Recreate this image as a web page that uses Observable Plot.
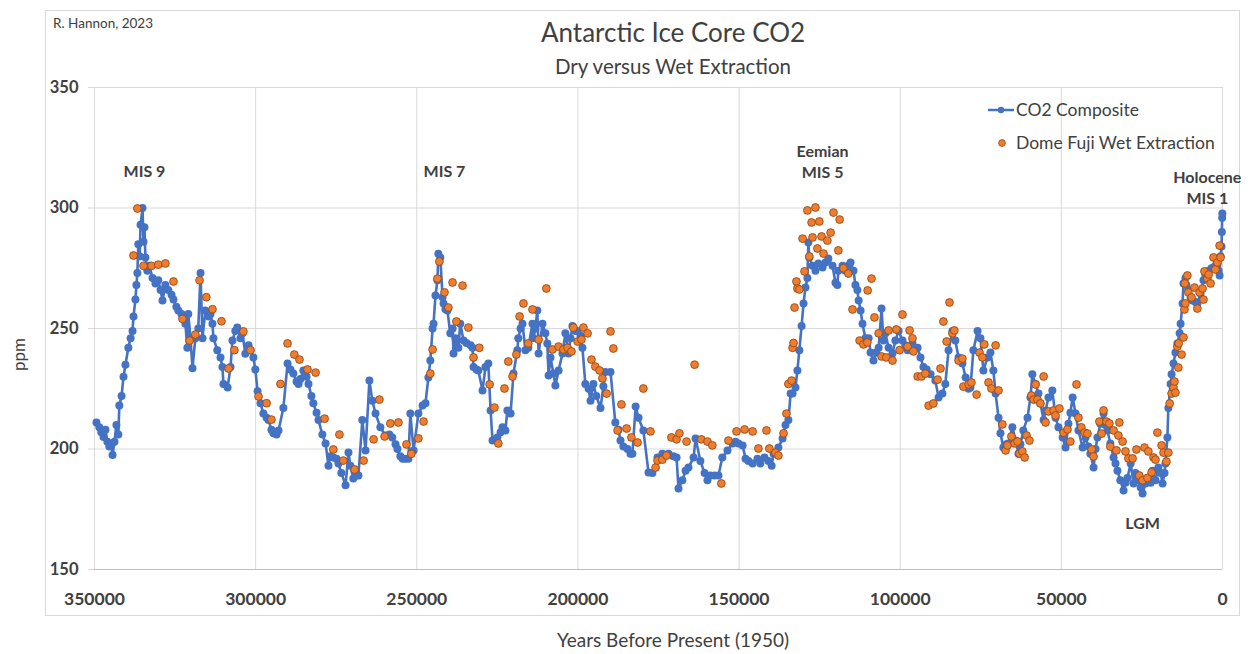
<!DOCTYPE html>
<html><head><meta charset="utf-8">
<script src="https://cdn.jsdelivr.net/npm/d3@7"></script>
<script src="https://cdn.jsdelivr.net/npm/@observablehq/plot@0.6"></script>
<style>
body{margin:0;background:#fff;font-family:Lato,"Noto Sans",sans-serif;color:#404040;}
#wrap{position:relative;width:1248px;height:654px;overflow:hidden;}
#frame{position:absolute;left:45px;top:10px;width:1195px;height:606px;border:1px solid #d9d9d9;box-sizing:border-box;}
.t{position:absolute;white-space:nowrap;}
#chart{position:absolute;left:0;top:0;}
</style></head>
<body><div id="wrap">
<div id="frame"></div>
<div id="chart"></div>
<div class="t" id="credit" style="left:53px;top:15px;font-size:13.5px;color:#404040;"></div>
<div class="t" id="title" style="left:0;width:1346px;top:16px;text-align:center;font-size:26px;color:#404040;"></div>
<div class="t" id="subtitle" style="left:0;width:1346px;top:54px;text-align:center;font-size:20.5px;color:#404040;"></div>
<div class="t" id="ylab" style="left:-2px;top:344px;font-size:17px;transform:rotate(-90deg);transform-origin:center;width:40px;text-align:center;"></div>
<div class="t" id="xlab" style="left:0;width:1346px;top:628px;text-align:center;font-size:19px;"></div>
<div class="t" id="legend" style="left:986px;top:93px;font-size:17.5px;line-height:33px;"></div>
</div>
<script>
const titleText = "Antarctic Ice Core CO2";
const subtitleText = "Dry versus Wet Extraction";
const creditText = "R. Hannon, 2023";
const xLabelText = "Years Before Present (1950)";
const yLabelText = "ppm";
const seriesNames = ["CO2 Composite", "Dome Fuji Wet Extraction"];
const xTicksKyr = [350, 300, 250, 200, 150, 100, 50, 0];
const yTicks = [150, 200, 250, 300, 350];

// [thousand years before 1950, ppm]
const compositeSeries = [[349.4,211],[348.5,209],[347.9,207],[347.2,205],[346.6,208],[346.0,203],[345.4,201],[344.7,202],[344.4,197.5],[343.8,203],[343.2,210],[342.6,206],[342.3,218],[341.6,222],[341.0,230],[340.4,235],[339.5,242],[338.8,246],[338.2,249],[337.9,255],[337.3,262],[337.0,268],[336.7,273],[336.4,285],[336.0,280],[335.7,293],[335.1,300],[334.8,286],[334.5,292],[334.2,279.5],[333.6,274],[333.0,276],[332.0,271],[331.1,268.7],[330.2,270],[329.5,266],[328.9,261.6],[328.0,268],[327.1,266],[326.1,264],[325.5,262],[324.6,259],[324.0,257.5],[323.0,256],[322.4,254],[321.8,252],[321.2,242],[320.9,256],[320.2,246],[319.6,233.5],[318.7,246],[317.8,250],[317.1,273],[316.5,246],[315.6,257.5],[314.6,255],[314.0,256],[313.4,252],[313.1,246],[311.9,241],[310.9,238],[310.3,234],[310.0,227],[308.7,225.5],[307.8,234],[307.2,245],[306.3,249],[305.7,250.4],[304.7,246],[304.1,248],[303.2,239.5],[302.2,243],[301.6,241],[300.7,238],[300.1,233],[299.4,224],[298.5,219],[297.6,214.7],[296.6,213],[296.0,212],[295.1,208],[294.5,206.5],[293.5,206],[292.9,207.7],[291.4,217],[290.1,235.5],[289.2,233],[288.3,231.3],[287.3,228],[286.7,227],[286.1,229],[285.2,232.6],[284.2,230],[283.6,227],[282.7,222],[282.1,219],[281.1,215],[280.5,212],[279.3,206],[278.3,202.3],[277.4,193],[276.8,197],[275.9,196.5],[274.9,196],[274.3,194],[273.4,190],[272.1,185],[271.2,198.5],[270.6,193],[269.7,187.8],[268.7,189],[268.1,189],[266.9,212],[265.9,199.4],[264.7,228.4],[263.8,220],[262.8,214.7],[261.3,209],[259.7,205.6],[258.5,206],[257.6,204.8],[256.6,202],[256.0,200],[255.1,197],[254.4,196],[253.5,196],[252.6,196],[252.0,214.7],[251.0,199.4],[249.5,214.7],[248.2,218],[247.3,219],[246.4,229.7],[245.8,236.7],[245.1,250],[244.8,252],[244.2,263.7],[243.6,270],[243.3,281],[242.7,279.5],[242.0,263],[241.7,260.4],[241.1,258],[240.5,257.5],[239.6,248],[238.9,250],[238.6,239.6],[238.0,246],[237.1,242],[236.5,252],[235.5,245],[234.6,244],[233.3,243],[232.7,242],[232.4,234],[231.5,233],[230.9,232.6],[229.6,224.3],[228.7,234],[227.8,235.5],[227.1,216],[226.5,203.5],[225.6,204],[225.0,204.8],[224.0,207],[223.4,209],[222.5,207.7],[221.9,216],[220.9,214.7],[220.0,231.3],[218.8,241],[218.5,246],[217.8,250],[217.2,252],[216.3,241],[215.4,242],[214.1,252],[213.8,246],[213.2,250],[212.6,257.5],[212.2,239.6],[211.0,252],[210.1,248],[209.5,243.8],[209.1,230.5],[208.5,238],[207.6,231.3],[207.0,226.3],[206.0,232.6],[204.8,239.6],[203.9,248],[202.9,239.6],[202.3,246],[201.7,251],[200.8,249],[200.1,249],[199.2,247],[198.6,242],[197.7,227],[196.7,225],[196.1,220],[195.2,227],[194.3,222],[193.0,217],[192.1,226],[191.5,232],[189.9,232],[188.4,211],[187.4,208],[186.8,203.5],[185.9,201],[184.6,200],[183.7,198],[183.1,198],[182.1,217.6],[181.2,213],[179.7,207.7],[178.1,190.3],[176.9,190],[175.3,196.5],[173.8,198],[171.9,198],[170.4,197],[169.4,196.5],[168.8,183.6],[167.6,187],[166.6,191],[165.7,192.3],[164.1,196.5],[163.5,204.4],[162.0,195],[160.7,190],[159.8,187],[158.9,189],[157.6,189],[156.4,189],[155.2,196.5],[153.6,199.4],[152.0,202.3],[151.1,203],[150.2,202.3],[148.9,201.5],[148.0,196],[147.1,195],[145.8,194],[144.3,196],[143.4,194],[142.1,196.5],[140.9,195],[139.9,193],[139.3,198],[137.8,200.6],[136.5,204.4],[135.6,210],[134.7,212],[134.0,223],[133.4,223],[132.5,225.5],[131.9,232.6],[131.3,241],[130.6,251],[130.0,260.4],[129.4,267],[128.8,271],[128.5,285.7],[128.2,279.5],[127.2,276],[126.3,274],[125.4,277],[124.1,275.3],[123.2,277.4],[122.3,279],[121.0,276],[120.1,269],[119.5,268],[119.2,274],[117.9,276],[117.0,274],[116.1,276],[115.4,277.4],[114.5,274],[113.9,268],[113.3,266],[112.9,261.6],[112.3,257.5],[111.7,252],[110.8,246],[109.8,246],[109.2,240],[108.3,236.7],[107.4,240],[106.7,242],[105.8,258.3],[105.2,245],[104.6,248],[103.6,242],[102.4,239.6],[101.5,245],[100.5,249],[99.3,245],[98.4,243],[97.7,241],[96.2,243.8],[94.6,242],[93.7,238],[92.8,234],[91.8,233],[90.6,231],[89.1,228.4],[88.1,221.4],[86.9,223],[86.0,227],[85.0,241],[83.8,249],[82.9,245],[81.9,238],[80.7,235.5],[79.7,229.7],[78.8,225],[78.2,225.5],[77.3,241],[76.0,249],[75.1,246],[74.2,232.6],[72.9,238],[72.0,240],[71.1,232.6],[70.4,223],[69.5,213],[68.9,206.5],[68.0,200.6],[67.0,202],[66.4,202.3],[65.2,209],[64.2,203.5],[63.3,198],[62.7,202],[61.8,207.7],[60.5,213],[59.6,221.4],[59.0,231],[58.0,227],[57.1,223],[56.5,219],[55.5,212],[54.9,216],[54.0,221.4],[52.8,224.3],[51.8,213],[50.9,209],[49.6,204.8],[48.7,200.6],[47.8,210.5],[47.2,215],[46.5,221.4],[45.6,214.7],[44.7,207.7],[43.4,200.6],[42.5,204.8],[41.6,201],[41.0,198],[40.0,192.3],[39.4,200],[38.8,204.8],[37.9,210.5],[36.9,214.7],[36.3,210],[35.7,207.7],[34.8,202.3],[33.8,196.5],[33.2,194],[32.6,191],[31.7,187],[30.7,182.8],[30.1,186],[29.5,188],[28.5,194],[27.6,185.7],[27.0,190],[26.4,187],[25.4,184],[24.8,181.5],[23.9,185.7],[23.0,188],[22.3,186],[21.7,191],[20.8,187],[19.9,192.3],[19.2,190],[18.6,185.7],[18.0,190],[17.7,194],[17.1,204.8],[16.8,217],[16.1,227],[15.8,231],[15.2,235.5],[14.6,240],[14.0,243.8],[13.3,248],[13.0,252],[12.4,260.4],[12.1,268.7],[11.5,271],[11.2,268],[10.6,266],[9.9,263],[9.3,261.6],[8.4,261],[7.8,260.4],[6.8,264.5],[5.9,270],[5.3,272],[4.3,274],[3.4,275],[2.8,275.3],[2.2,276],[1.6,277],[1.2,274],[0.9,272],[0.6,280],[0.3,284],[0.2,290],[0.1,296],[0.05,297.7]];

const domeFujiSeries = [[336.7,299.8],[337.9,280.3],[334.8,276],[332.3,276],[330.2,276.5],[328.0,277],[325.5,269.5],[322.7,254],[320.5,245],[318.7,247.5],[317.4,270],[315.3,263],[313.4,258],[310.6,253],[308.4,233.4],[306.6,241],[303.8,248.8],[301.6,241],[299.1,221.8],[296.6,219],[295.1,212.2],[292.3,227],[290.1,243.8],[288.0,239.2],[286.4,237.1],[283.9,233],[281.4,231.7],[278.6,212.6],[275.9,199.8],[274.0,206],[272.8,195.2],[269.3,191.5],[266.5,195.2],[263.4,204],[261.6,220.5],[260.0,205.2],[258.2,210.6],[255.7,211],[253.2,201.9],[251.7,198],[249.5,204.4],[247.9,211.4],[245.8,231.3],[245.1,241.3],[243.6,270.7],[243.0,277.8],[241.4,265],[240.2,258.7],[238.9,269.1],[237.7,252.9],[235.8,267.8],[234.0,250.4],[232.4,238],[230.6,242],[227.4,226.8],[225.9,217.2],[224.7,202.3],[222.8,225.1],[221.6,236.3],[220.3,230.1],[219.1,239.2],[218.1,255],[216.9,260.4],[215.4,243.8],[214.1,257.9],[212.2,245.4],[209.8,266.6],[207.9,241.3],[206.0,242.5],[204.5,241.3],[203.2,242],[202.0,240.5],[201.4,250.4],[200.1,244.6],[198.9,245.4],[198.3,250.4],[197.0,248],[195.8,237.1],[194.6,234.2],[193.3,232.6],[192.4,229.3],[191.1,223],[189.9,248.8],[189.0,241.7],[187.7,207.7],[186.5,218.5],[184.9,208.5],[183.4,204.8],[181.5,202.7],[179.7,225.1],[177.5,207.3],[175.9,192.3],[175.3,195.2],[173.8,195.6],[172.5,197.3],[171.0,204.8],[169.4,204],[168.5,206.5],[166.3,203.1],[163.8,235],[161.7,204],[159.8,203.1],[158.3,201.5],[155.5,185.7],[153.3,203.5],[150.8,207.3],[148.3,208.1],[145.8,207.3],[144.0,200.2],[141.5,207.7],[140.6,200.2],[138.7,198.5],[137.8,197.3],[136.2,206.5],[135.3,214.7],[134.7,227],[133.7,228.4],[133.4,242],[133.1,244],[132.8,258.7],[132.2,269.5],[131.9,266.6],[131.3,266.2],[130.3,287.3],[129.7,273.7],[128.8,299],[128.2,279.9],[127.5,294],[127.2,287.8],[126.3,300.2],[125.7,283.2],[125.1,294.4],[124.4,288.2],[123.8,281.1],[122.6,286.5],[121.6,289.8],[120.7,298.1],[119.2,282.4],[118.8,295.2],[117.6,275],[116.1,272.8],[114.8,257.9],[112.6,245],[111.4,243.4],[110.2,244.2],[110.1,265.8],[108.9,270.7],[108.0,254.6],[106.7,248],[105.8,238.4],[104.3,238],[103.6,249.2],[102.4,236.7],[101.2,249.6],[100.2,241],[99.3,255.8],[97.7,242.5],[97.1,249.2],[96.2,245.9],[95.9,240.5],[94.6,230.1],[93.4,230.1],[92.2,231.3],[91.2,218],[89.7,218.9],[88.4,228.8],[87.5,233.4],[86.6,252.9],[85.6,244.6],[84.7,260.8],[83.8,248],[83.2,249.2],[81.9,236.7],[80.7,237.5],[80.4,225.9],[78.8,226.8],[77.9,227.6],[76.3,222.6],[75.4,240],[74.5,238],[73.9,243.4],[72.6,227.6],[71.7,225.1],[70.4,243],[69.5,224.3],[68.3,210.2],[67.3,199.4],[66.7,201.5],[65.5,205.2],[64.5,202.3],[63.6,203.1],[63.0,198.1],[62.1,199],[61.4,196.5],[60.8,205.6],[59.9,203.5],[59.3,222.2],[58.6,220.5],[58.0,226.8],[57.4,220.5],[56.5,218.9],[55.5,230.1],[54.9,211],[54.0,215.6],[52.4,216],[51.8,213.9],[50.6,216.8],[49.3,206.8],[48.1,208.1],[47.2,203.1],[45.3,226.8],[44.7,213],[43.8,209],[42.8,206.8],[41.9,206.4],[40.6,199.8],[40.0,196.9],[38.2,211.4],[37.5,206.4],[36.9,216],[36.0,211.4],[35.1,210.6],[34.8,201],[33.8,207.7],[32.9,199.4],[32.3,205.6],[32.0,211],[31.0,203.1],[30.1,199],[29.2,196.1],[27.9,196.1],[26.7,199.8],[25.8,189],[24.8,187],[24.2,200.6],[23.3,188],[23.0,199],[22.0,190.3],[21.4,196.5],[20.8,195.6],[20.2,206.8],[18.9,201.5],[18.3,198.5],[17.4,194.8],[16.8,198.5],[16.4,218.9],[15.8,223],[15.2,225.5],[14.9,228],[14.6,223.4],[14.0,242.5],[13.7,233.8],[13.6,243.8],[12.7,239.2],[12.1,246.3],[11.8,257.9],[11.5,260.4],[11.7,268.7],[10.9,272],[10.6,265],[9.6,262.9],[8.7,267],[7.8,258.3],[7.1,265],[6.2,266.6],[5.9,262],[5.6,273.7],[4.7,270.7],[4.3,272.4],[3.7,268.7],[2.8,279.5],[2.2,274.5],[1.6,277.4],[0.9,284.4],[0.6,279.5]];

const annotations = [
  {label: "MIS 9", kyr: 334.5, ppm: 315.6},
  {label: "MIS 7", kyr: 241.4, ppm: 315.6},
  {label: "Eemian\nMIS 5", kyr: 124.1, ppm: 319.7},
  {label: "Holocene\nMIS 1", kyr: 4.7, ppm: 308.9},
  {label: "LGM", kyr: 24.8, ppm: 169.5}
];

const BLUE = "#4472C4", ORANGE = "#ED7D31", ORANGE_EDGE = "#9C4A10", GRID = "#d9d9d9", TXT = "#404040";

document.getElementById("credit").textContent = creditText;
document.getElementById("title").textContent = titleText;
document.getElementById("subtitle").textContent = subtitleText;
document.getElementById("xlab").textContent = xLabelText;
document.getElementById("ylab").textContent = yLabelText;
document.getElementById("legend").innerHTML =
  `<div><svg width="30" height="14" style="vertical-align:-1px"><line x1="2" x2="28" y1="7" y2="7" stroke="${BLUE}" stroke-width="2.5"/><circle cx="15" cy="7" r="3.2" fill="${BLUE}"/></svg><span></span></div>` +
  `<div><svg width="30" height="14" style="vertical-align:-1px"><circle cx="16" cy="7" r="3.4" fill="${ORANGE}" stroke="${ORANGE_EDGE}" stroke-width="0.8"/></svg><span></span></div>`;
const spans = document.querySelectorAll("#legend span");
spans[0].textContent = seriesNames[0];
spans[1].textContent = seriesNames[1];

const chart = Plot.plot({
  width: 1248, height: 654,
  marginLeft: 94, marginRight: 26, marginTop: 87, marginBottom: 85,
  style: {background: "transparent", fontFamily: "Lato, 'Noto Sans', sans-serif", color: TXT},
  x: {domain: [350, 0], label: null},
  y: {domain: [150, 350], label: null},
  marks: [
    Plot.gridX(xTicksKyr, {stroke: GRID, strokeOpacity: 1, strokeWidth: 1}),
    Plot.gridY(yTicks, {stroke: GRID, strokeOpacity: 1, strokeWidth: 1, x1: 0, x2: 350}),
    Plot.ruleY([150], {stroke: "#bfbfbf", strokeWidth: 1}),
    Plot.axisX(xTicksKyr, {tickSize: 0, tickPadding: 23, tickFormat: d => String(d * 1000), fontSize: 17.5, fontWeight: "bold", fill: TXT, label: null}),
    Plot.axisY(yTicks, {tickSize: 6, stroke: GRID, tickPadding: 10, fontSize: 16.5, fontWeight: "bold", fill: TXT, label: null}),
    Plot.line(compositeSeries, {x: d => d[0], y: d => d[1], stroke: BLUE, strokeWidth: 2.6, curve: "linear"}),
    Plot.dot(compositeSeries, {x: d => d[0], y: d => d[1], r: 4, fill: BLUE, stroke: "none"}),
    Plot.dot(domeFujiSeries, {x: d => d[0], y: d => d[1], r: 3.9, fill: ORANGE, stroke: ORANGE_EDGE, strokeWidth: 0.9}),
    Plot.text(annotations, {x: "kyr", y: "ppm", text: "label", fontSize: 16, fontWeight: "bold", fill: TXT, lineHeight: 1.35, textAnchor: "middle"})
  ]
});
document.getElementById("chart").appendChild(chart);
</script>
</body></html>
